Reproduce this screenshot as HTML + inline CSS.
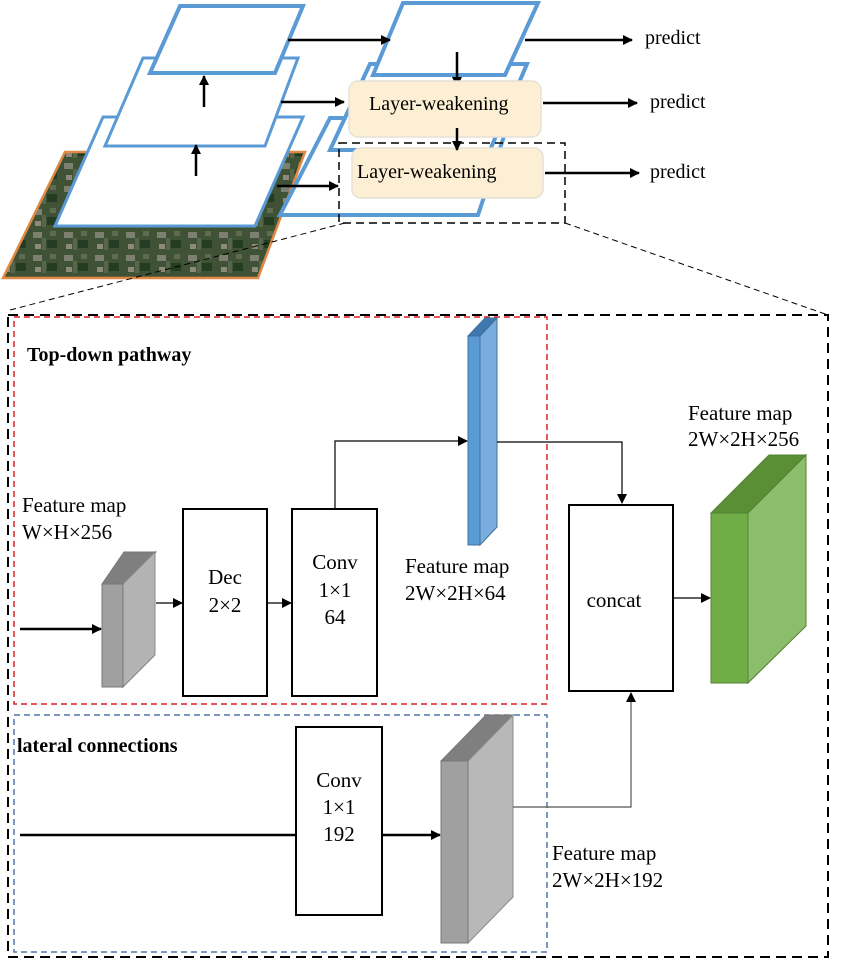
<!DOCTYPE html>
<html><head><meta charset="utf-8"><style>
html,body{margin:0;padding:0;background:#fff;}
svg{display:block;}
svg text{font-family:"Liberation Serif","Times New Roman","DejaVu Serif",serif;}
</style></head><body>
<svg width="846" height="960" viewBox="0 0 846 960" xmlns="http://www.w3.org/2000/svg">
<defs>
<marker id="ah" markerWidth="10" markerHeight="10" refX="9" refY="5" orient="auto" markerUnits="userSpaceOnUse"><path d="M0,0 L10,5 L0,10 z" fill="#000"/></marker>
<pattern id="sat" width="31" height="23" patternUnits="userSpaceOnUse">
<rect width="31" height="23" fill="#3f5236"/>
<rect x="2" y="2" width="9" height="6" fill="#7d7f70"/>
<rect x="16" y="10" width="10" height="8" fill="#243d22"/>
<rect x="4" y="14" width="6" height="5" fill="#8e897a"/>
<rect x="19" y="1" width="6" height="5" fill="#5f6b4e"/>
<rect x="11" y="8" width="4" height="12" fill="#56664a"/>
</pattern>
</defs>

<polygon points="65,152 305,152 258,278 3,278" fill="url(#sat)" stroke="#e08a45" stroke-width="2.5"/>

<polygon points="103,117 303,117 255,226 55,226" fill="#fff" stroke="#5b9bd5" stroke-width="3"/>
<polygon points="143,58 298,58 265,146 105,146" fill="#fff" stroke="#5b9bd5" stroke-width="3"/>
<polygon points="180,6 303,6 275,73 150,73" fill="#fff" stroke="#5b9bd5" stroke-width="4"/>
<line x1="196" y1="176" x2="196" y2="145" stroke="#000" stroke-width="2.5" marker-end="url(#ah)"/>
<line x1="204" y1="107" x2="204" y2="76" stroke="#000" stroke-width="2.5" marker-end="url(#ah)"/>

<polygon points="330,118 510,118 478,215 280,215" fill="#fff" stroke="#5b9bd5" stroke-width="4"/>
<polygon points="370,64 527,64 490,150 330,150" fill="#fff" stroke="#5b9bd5" stroke-width="4"/>
<polygon points="403,3 538,3 505,75 373,75" fill="#fff" stroke="#5b9bd5" stroke-width="4"/>

<line x1="288" y1="40" x2="390" y2="40" stroke="#000" stroke-width="2.5" marker-end="url(#ah)"/>
<line x1="281" y1="102" x2="344" y2="102" stroke="#000" stroke-width="2.5" marker-end="url(#ah)"/>
<line x1="277" y1="186" x2="338" y2="186" stroke="#000" stroke-width="2.5" marker-end="url(#ah)"/>
<line x1="457" y1="52" x2="457" y2="86" stroke="#000" stroke-width="2.5" marker-end="url(#ah)"/>

<rect x="349" y="81" width="192" height="56" rx="9" fill="#fdefd3" stroke="#e6e0d6" stroke-width="1.5"/>
<rect x="352" y="148" width="191" height="50" rx="9" fill="#fdefd3" stroke="#e6e0d6" stroke-width="1.5"/>
<line x1="457" y1="128" x2="457" y2="150" stroke="#000" stroke-width="2.5" marker-end="url(#ah)"/>
<text x="369" y="110" font-size="20">Layer-weakening</text>
<text x="357" y="178" font-size="20">Layer-weakening</text>

<rect x="339" y="143" width="226" height="80" fill="none" stroke="#000" stroke-width="1.5" stroke-dasharray="8,5"/>

<line x1="525" y1="40" x2="632" y2="40" stroke="#000" stroke-width="2.5" marker-end="url(#ah)"/>
<line x1="543" y1="103" x2="637" y2="103" stroke="#000" stroke-width="2.5" marker-end="url(#ah)"/>
<line x1="545" y1="173" x2="639" y2="173" stroke="#000" stroke-width="2.5" marker-end="url(#ah)"/>
<text x="645" y="44" font-size="20">predict</text>
<text x="650" y="108" font-size="20">predict</text>
<text x="650" y="178" font-size="20">predict</text>

<line x1="345" y1="223" x2="10" y2="310" stroke="#000" stroke-width="1" stroke-dasharray="6,4"/>
<line x1="565" y1="223" x2="828" y2="315" stroke="#000" stroke-width="1" stroke-dasharray="6,4"/>

<rect x="8" y="315" width="820" height="642" fill="none" stroke="#000" stroke-width="2" stroke-dasharray="10,6"/>
<rect x="14" y="317" width="533" height="387" fill="none" stroke="#e02020" stroke-width="1.5" stroke-dasharray="6,4"/>
<rect x="14" y="715" width="533" height="237" fill="none" stroke="#5577aa" stroke-width="1.5" stroke-dasharray="6,4"/>

<text x="27" y="361" font-size="20" font-weight="bold">Top-down pathway</text>
<text x="17" y="752" font-size="20" font-weight="bold">lateral connections</text>

<polygon points="102,584 124,552 156,552 134,584" fill="#7f7f7f" stroke="#777"/>
<polygon points="123,584 155,552 155,655 123,687" fill="#b3b3b3" stroke="#888"/>
<rect x="102" y="584" width="21" height="103" fill="#a0a0a0" stroke="#777"/>
<text x="22" y="512" font-size="21">Feature map</text>
<text x="22" y="539" font-size="21">W×H×256</text>
<line x1="20" y1="629" x2="101" y2="629" stroke="#000" stroke-width="2.5" marker-end="url(#ah)"/>

<rect x="183" y="509" width="84" height="187" fill="#fff" stroke="#000" stroke-width="2"/>
<text x="225" y="584" font-size="21" text-anchor="middle">Dec</text>
<text x="225" y="612" font-size="21" text-anchor="middle">2×2</text>
<line x1="156" y1="603" x2="182" y2="603" stroke="#000" stroke-width="1.2" marker-end="url(#ah)"/>

<rect x="292" y="509" width="85" height="187" fill="#fff" stroke="#000" stroke-width="2"/>
<text x="335" y="569" font-size="21" text-anchor="middle">Conv</text>
<text x="335" y="597" font-size="21" text-anchor="middle">1×1</text>
<text x="335" y="624" font-size="21" text-anchor="middle">64</text>
<line x1="267" y1="603" x2="291" y2="603" stroke="#000" stroke-width="1.2" marker-end="url(#ah)"/>
<polyline points="335,509 335,441 467,441" fill="none" stroke="#000" stroke-width="1.2" marker-end="url(#ah)"/>

<polygon points="468,336 480,336 497,318 485,318" fill="#3f77b0" stroke="#41719c"/>
<polygon points="480,336 497,318 497,527 480,545" fill="#7aaddf" stroke="#41719c"/>
<rect x="468" y="336" width="12" height="209" fill="#5b9bd5" stroke="#41719c"/>
<text x="405" y="573" font-size="21">Feature map</text>
<text x="405" y="600" font-size="21">2W×2H×64</text>
<polyline points="497,442 622,442 622,503" fill="none" stroke="#000" stroke-width="1.2" marker-end="url(#ah)"/>

<rect x="569" y="505" width="104" height="186" fill="#fff" stroke="#000" stroke-width="2"/>
<text x="614" y="607" font-size="21" text-anchor="middle">concat</text>
<line x1="673" y1="598" x2="710" y2="598" stroke="#000" stroke-width="1.2" marker-end="url(#ah)"/>

<polygon points="711,513 748,513 806,455 769,455" fill="#5a8f35" stroke="#548235"/>
<polygon points="748,513 806,455 806,626 748,683" fill="#8cbd6a" stroke="#548235"/>
<rect x="711" y="513" width="37" height="170" fill="#70ad47" stroke="#548235"/>
<text x="688" y="420" font-size="21">Feature map</text>
<text x="688" y="446" font-size="21">2W×2H×256</text>

<line x1="20" y1="835" x2="296" y2="835" stroke="#000" stroke-width="2.5"/>
<rect x="296" y="727" width="86" height="188" fill="#fff" stroke="#000" stroke-width="2"/>
<text x="339" y="787" font-size="21" text-anchor="middle">Conv</text>
<text x="339" y="814" font-size="21" text-anchor="middle">1×1</text>
<text x="339" y="841" font-size="21" text-anchor="middle">192</text>
<line x1="382" y1="835" x2="440" y2="835" stroke="#000" stroke-width="2.5" marker-end="url(#ah)"/>

<polygon points="441,761 468,761 513,715 486,715" fill="#7f7f7f" stroke="#777"/>
<polygon points="468,761 513,715 513,897 468,943" fill="#b8b8b8" stroke="#888"/>
<rect x="441" y="761" width="27" height="182" fill="#a0a0a0" stroke="#777"/>
<polyline points="513,807 631,807 631,693" fill="none" stroke="#555" stroke-width="1.2" marker-end="url(#ah)"/>
<text x="552" y="860" font-size="21">Feature map</text>
<text x="552" y="887" font-size="21">2W×2H×192</text>
</svg>
</body></html>
